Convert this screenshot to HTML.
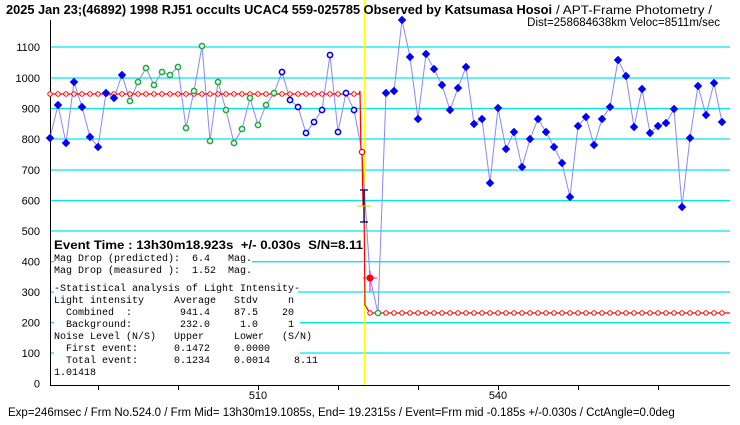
<!DOCTYPE html>
<html><head><meta charset="utf-8"><style>
body{margin:0;background:#fff;width:740px;height:425px;overflow:hidden}
svg{display:block}
text{font-family:"Liberation Sans",sans-serif}
.m text{font-family:"Liberation Mono",monospace;font-size:10px;white-space:pre}
</style></head><body>
<svg id="s" width="740" height="425" xmlns="http://www.w3.org/2000/svg">
<g id="grid" stroke="#00e5ee" stroke-width="1.3"></g>
<g font-size="11" text-anchor="end" id="yl"></g>
<line x1="50.5" y1="20" x2="50.5" y2="385" stroke="#000"/>
<line x1="50" y1="385.5" x2="730" y2="385.5" stroke="#000"/>
<g stroke="#000" id="xt"></g>
<text x="258" y="399" font-size="11" text-anchor="middle">510</text>
<text x="498" y="399" font-size="11" text-anchor="middle">540</text>
<line x1="364.5" y1="0" x2="364.5" y2="385" stroke="#ffff00" stroke-width="1.5"/>
<polyline id="bl" fill="none" stroke="#8888ff" stroke-width="1"/>
<polyline id="rl" fill="none" stroke="#ff0000" stroke-width="1.2"/>
<g id="rm"></g>
<g id="pts"></g>
<g stroke="#000066" stroke-width="1.3">
<line x1="364" y1="190" x2="364" y2="222"/><line x1="360" y1="190" x2="368" y2="190"/><line x1="360" y1="222" x2="368" y2="222"/>
</g>
<line x1="357" y1="206" x2="371" y2="206" stroke="#e0d000"/>
<g stroke="#ff00ff"><line x1="363" y1="278" x2="377" y2="278"/><line x1="370" y1="271" x2="370" y2="292"/></g>
<circle cx="370" cy="278" r="3.5" fill="#ff0000"/>
<text x="6" y="14" font-size="12.5" font-weight="bold" textLength="546" lengthAdjust="spacingAndGlyphs">2025 Jan 23;(46892) 1998 RJ51 occults UCAC4 559-025785 Observed by Katsumasa Hosoi</text>
<text x="556" y="14" font-size="11.5" textLength="156" lengthAdjust="spacingAndGlyphs">/ APT-Frame Photometry /</text>
<text x="720" y="26" font-size="11.5" text-anchor="end">Dist=258684638km Veloc=8511m/sec</text>
<text x="8" y="416" font-size="11.5">Exp=246msec / Frm No.524.0 / Frm Mid= 13h30m19.1085s,  End= 19.2315s / Event=Frm mid -0.185s +/-0.030s / CctAngle=0.0deg</text>
<text x="54" y="249" font-size="12" font-weight="bold" style="white-space:pre" textLength="309" lengthAdjust="spacingAndGlyphs">Event Time : 13h30m18.923s  +/- 0.030s  S/N=8.11</text>
<g class="m">
<text x="54" y="261">Mag Drop (predicted):  6.4   Mag.</text>
<text x="54" y="273">Mag Drop (measured ):  1.52  Mag.</text>
<text x="54" y="291">-Statistical analysis of Light Intensity-</text>
<text x="54" y="303">Light intensity     Average   Stdv     n</text>
<text x="54" y="315">  Combined  :        941.4    87.5    20</text>
<text x="54" y="327">  Background:        232.0     1.0     1</text>
<text x="54" y="339">Noise Level (N/S)   Upper     Lower   (S/N)</text>
<text x="54" y="351">  First event:      0.1472    0.0000</text>
<text x="54" y="363">  Total event:      0.1234    0.0014    8.11</text>
<text x="54" y="375">1.01418</text>
</g>
</svg>
<script>
var NS="http://www.w3.org/2000/svg";
function el(p,t,a){var e=document.createElementNS(NS,t);for(var k in a)e.setAttribute(k,a[k]);document.getElementById(p).appendChild(e);return e;}
var g=[[1100,47,50],[1000,78,50],[900,108.5,50],[800,139,50],[700,170,50],[600,200.5,50],[500,231,50],[400,261.7,252],[300,292,298],[200,322.7,300],[100,353,300],[0,383.6,0]];
g.forEach(function(r){
 if(r[0]>0){el("grid","line",{x1:r[2],y1:r[1],x2:730,y2:r[1]});if(r[2]>50)el("grid","line",{x1:50,y1:r[1],x2:54,y2:r[1]});}
 var t=el("yl","text",{x:40,y:r[1]+4});t.textContent=r[0];
});
[98,178,258,338,418,498,578,658].forEach(function(x){el("xt","line",{x1:x+.5,y1:385,x2:x+.5,y2:390});});
var Y=[138,105,143,82,107,137,147,93,98,75,101,82,68,85,72,75,67,128,91,46,141,82,110,143,129,98,125,105,93,72,100,107,133,122,110,55,132,93,110,152,278,313,
93,91,20,57,119,54,69,85,110,88,67,124,119,183,108,149,132,167,139,119,132,147,163,197,126,117,145,119,107,60,76,127,89,133,126,123,109,207,138,86,115,83,122];
var pts=[];
Y.forEach(function(y,i){var x=50+8*i;pts.push(x+","+y);});
document.getElementById("bl").setAttribute("points",pts.join(" "));
Y.forEach(function(y,i){var x=50+8*i;
 if(i<10||i>=42)el("pts","rect",{x:x-3,y:y-3,width:6,height:6,fill:"#0000ff",transform:"rotate(45 "+x+" "+y+")"});
 else if(i<29)el("pts","circle",{cx:x,cy:y,r:2.6,fill:"#fff",stroke:"#22aa44","stroke-width":1.6});
 else if(i<39)el("pts","circle",{cx:x,cy:y,r:2.6,fill:"#fff",stroke:"#0000ff","stroke-width":1.6});
 else if(i==39)el("pts","circle",{cx:x,cy:y,r:2.6,fill:"#fff",stroke:"#ff0000","stroke-width":1.2});
 else if(i==41)el("pts","circle",{cx:x,cy:y,r:2.6,fill:"#fff",stroke:"#22aa44","stroke-width":1.4});
});
document.getElementById("rl").setAttribute("points","50,94 359,94 360,91 361,152 362,152 363,205 364,205 365,305 368,310 370,313 730,313");
for(var x=50;x<=354;x+=8)el("rm","circle",{cx:x,cy:94,r:2.2,fill:"#fff",stroke:"#ff0000","stroke-width":1});
for(var x=370;x<=726;x+=8)el("rm","circle",{cx:x,cy:313,r:2.2,fill:"#fff",stroke:"#ff0000","stroke-width":1});
</script>
</body></html>
